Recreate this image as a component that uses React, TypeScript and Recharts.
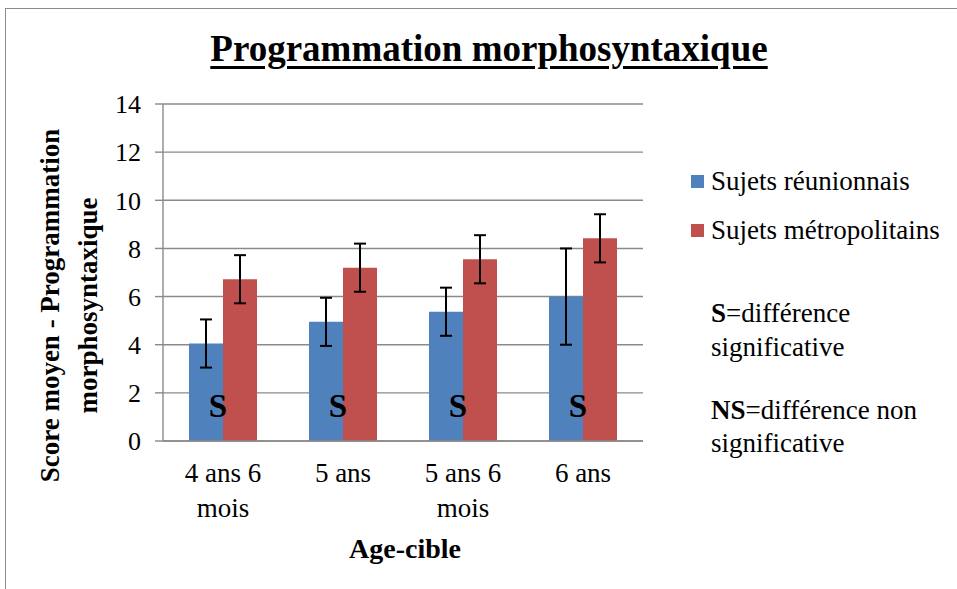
import React from 'react'
import {
  BarChart,
  Bar,
  XAxis,
  YAxis,
  CartesianGrid,
  ErrorBar,
  LabelList,
  Legend,
} from 'recharts'

// values
const categories = ['4 ans 6\nmois', '5 ans', '5 ans 6\nmois', '6 ans']
const reunionnais = [4.05, 4.95, 5.37, 6.0]
const reunionnaisErr = [1, 1, 1, 2]
const metropolitains = [6.72, 7.2, 7.55, 8.42]
const metropolitainsErr = [1, 1, 1, 1]
const significance = ['S', 'S', 'S', 'S']
const yTicks = [0, 2, 4, 6, 8, 10, 12, 14]
const edgeTicks = [0, 1, 2, 3, 4]

const seriesNames = ['Sujets réunionnais', 'Sujets métropolitains']
const seriesColors = ['#4F81BD', '#C0504D']

const FONT = 'Liberation Serif, DejaVu Serif, serif'
const GRID = '#8a8a8a'

const chartData = categories.map((name, i) => ({
  name,
  reunionnais: reunionnais[i],
  reunionnaisErr: reunionnaisErr[i],
  metropolitains: metropolitains[i],
  metropolitainsErr: metropolitainsErr[i],
  sig: significance[i],
}))

function XTick({ x, y, payload }: any) {
  const lines = String(payload.value).split('\n')
  return (
    <text x={x} y={y} textAnchor="middle" fontFamily={FONT} fontSize={27} fill="#000">
      {lines.map((line, i) => (
        <tspan key={i} x={x} dy={i === 0 ? 33 : 35}>
          {line}
        </tspan>
      ))}
    </text>
  )
}

function YTitle({ viewBox }: any) {
  const cx = viewBox.x + 69
  const cy = viewBox.y + viewBox.height / 2 + 33
  return (
    <text
      transform={`rotate(-90 ${cx} ${cy})`}
      textAnchor="middle"
      dominantBaseline="central"
      fontFamily={FONT}
      fontWeight="bold"
      fontSize={27}
      fill="#000"
    >
      <tspan x={cx} y={cy - 19}>Score moyen - Programmation</tspan>
      <tspan x={cx} y={cy + 19}>morphosyntaxique</tspan>
    </text>
  )
}

function XTitle({ viewBox }: any) {
  return (
    <text
      x={viewBox.x + viewBox.width / 2 + 2}
      y={viewBox.y + 107}
      textAnchor="middle"
      dominantBaseline="central"
      fontFamily={FONT}
      fontWeight="bold"
      fontSize={28}
      fill="#000"
    >
      Age-cible
    </text>
  )
}

function SigLabel({ x, y, width, height, value }: any) {
  return (
    <text
      x={x + width - 5}
      y={y + height - 35}
      textAnchor="middle"
      dominantBaseline="central"
      fontFamily={FONT}
      fontWeight="bold"
      fontSize={33}
      fill="#000"
    >
      {value}
    </text>
  )
}

function LegendBox() {
  const text: React.CSSProperties = {
    position: 'absolute',
    left: 26,
    fontFamily: FONT,
    fontSize: 27,
    lineHeight: '34px',
    color: '#000',
    whiteSpace: 'nowrap',
  }
  return (
    <div style={{ position: 'relative', width: 272, height: 470 }}>
      {seriesNames.map((name, i) => (
        <React.Fragment key={name}>
          <div
            style={{
              position: 'absolute',
              left: 6,
              top: 175 + i * 49,
              width: 13,
              height: 13,
              background: seriesColors[i],
            }}
          />
          <div style={{ ...text, top: 164 + i * 49 }}>{name}</div>
        </React.Fragment>
      ))}
      <div style={{ ...text, top: 296 }}>
        <b>S</b>=différence
      </div>
      <div style={{ ...text, top: 330 }}>significative</div>
      <div style={{ ...text, top: 393 }}>
        <b>NS</b>=différence non
      </div>
      <div style={{ ...text, top: 426 }}>significative</div>
    </div>
  )
}

export default function App() {
  return (
    <div
      style={{
        position: 'absolute',
        left: 0,
        top: 0,
        width: 957,
        height: 589,
        background: '#fff',
        overflow: 'hidden',
      }}
    >
      <div
        style={{
          position: 'absolute',
          left: 5,
          top: 8,
          width: 1000,
          height: 620,
          borderLeft: '1px solid #8c8c8c',
          borderTop: '1px solid #8c8c8c',
        }}
      />
      <div
        style={{
          position: 'absolute',
          left: 0,
          top: 30,
          width: 978,
          textAlign: 'center',
          fontFamily: FONT,
          fontWeight: 'bold',
          fontSize: 37,
          lineHeight: '37px',
          textDecoration: 'underline',
          textDecorationThickness: '3px',
          textUnderlineOffset: '5px',
        }}
      >
        Programmation morphosyntaxique
      </div>
      <div style={{ position: 'absolute', left: 0, top: 0 }}>
        <BarChart
          width={957}
          height={589}
          data={chartData}
          margin={{ top: 104, right: 42, bottom: 28, left: 0 }}
          barCategoryGap={26}
          barGap={0}
        >
          <CartesianGrid vertical={false} stroke={GRID} strokeWidth={1.4} />
          <XAxis
            xAxisId="edge"
            type="number"
            domain={[0, 4]}
            ticks={edgeTicks}
            height={0}
            axisLine={false}
            tick={false}
            tickSize={8}
            tickLine={{ stroke: GRID, strokeWidth: 1.4 }}
          />
          <XAxis
            dataKey="name"
            interval={0}
            height={120}
            tickLine={false}
            axisLine={{ stroke: GRID, strokeWidth: 1.4 }}
            tick={<XTick />}
            label={{ content: <XTitle /> }}
          />
          <YAxis
            width={163}
            domain={[0, 14]}
            ticks={yTicks}
            interval={0}
            tickSize={8}
            tickMargin={14}
            tickLine={{ stroke: GRID, strokeWidth: 1.4 }}
            axisLine={{ stroke: GRID, strokeWidth: 1.4 }}
            tick={{ fontFamily: FONT, fontSize: 26, fill: '#000' }}
            label={{ content: <YTitle /> }}
          />
          <Legend
            layout="vertical"
            align="right"
            verticalAlign="middle"
            wrapperStyle={{ left: 685, top: 0, width: 272 }}
            content={<LegendBox />}
          />
          <Bar dataKey="reunionnais" fill={seriesColors[0]} isAnimationActive={false}>
            <ErrorBar dataKey="reunionnaisErr" width={6} stroke="#000" strokeWidth={2} />
            <LabelList dataKey="sig" content={<SigLabel />} />
          </Bar>
          <Bar dataKey="metropolitains" fill={seriesColors[1]} isAnimationActive={false}>
            <ErrorBar dataKey="metropolitainsErr" width={6} stroke="#000" strokeWidth={2} />
          </Bar>
        </BarChart>
      </div>
    </div>
  )
}
